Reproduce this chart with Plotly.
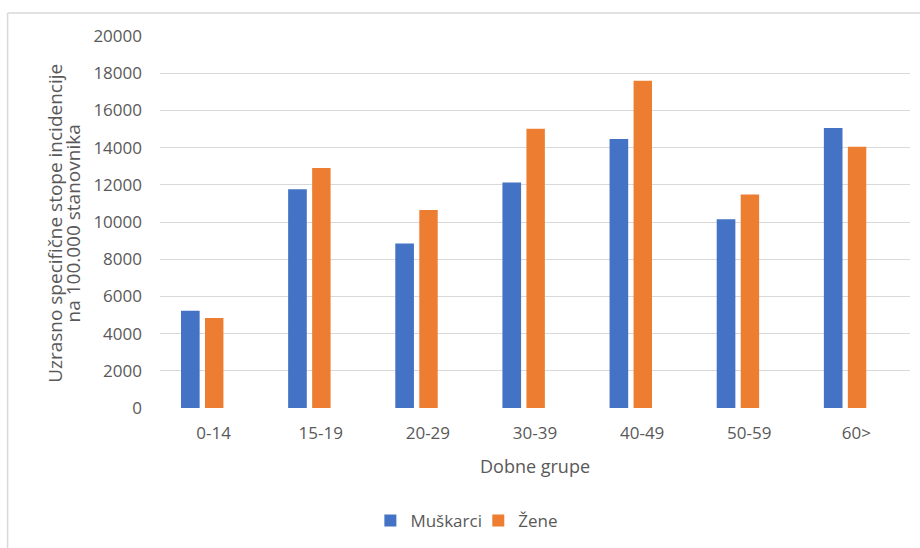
import plotly.graph_objects as go

# Age groups and incidence rates per 100,000 inhabitants
age_groups = ["0-14", "15-19", "20-29", "30-39", "40-49", "50-59", "60>"]
muskarci = [5230, 11760, 8850, 12130, 14460, 10150, 15050]
zene = [4840, 12900, 10650, 15010, 17600, 11480, 14050]
y_ticks = [0, 2000, 4000, 6000, 8000, 10000, 12000, 14000, 16000, 18000, 20000]

BLUE = "#4472C4"
ORANGE = "#ED7D31"
TEXT = "#595959"
GRID = "#D9D9D9"
FONT = "Open Sans"

fig = go.Figure()
fig.add_trace(go.Bar(
    x=age_groups, y=muskarci, name="Muškarci",
    marker=dict(color=BLUE, line=dict(width=0)),
    width=0.174, offset=-0.304, legend="legend",
))
fig.add_trace(go.Bar(
    x=age_groups, y=zene, name="Žene",
    marker=dict(color=ORANGE, line=dict(width=0)),
    width=0.172, offset=-0.080, legend="legend2",
))

legend_style = dict(
    orientation="h", xanchor="left", y=-0.30, yanchor="middle",
    font=dict(family=FONT, size=17, color=TEXT),
    bgcolor="rgba(0,0,0,0)", borderwidth=0,
)

fig.update_layout(
    width=920, height=548, autosize=False,
    margin=dict(l=159.5, r=10, t=36, b=139, pad=0),
    paper_bgcolor="white", plot_bgcolor="white",
    font=dict(family=FONT, size=17, color=TEXT),
    barmode="overlay",
    showlegend=True,
    legend=dict(x=0.2805, **legend_style),
    legend2=dict(x=0.4244, **legend_style),
    xaxis=dict(
        type="category", range=[-0.5, 6.5],
        showgrid=False, zeroline=False, showline=False,
        ticks="", ticklabelstandoff=13,
        tickfont=dict(family=FONT, size=17, color=TEXT),
    ),
    yaxis=dict(
        range=[0, 20000], tickvals=y_ticks, tickformat="d",
        showgrid=True, gridcolor=GRID, gridwidth=1,
        zeroline=False, showline=False,
        ticks="", ticklabelstandoff=17,
        tickfont=dict(family=FONT, size=17, color=TEXT),
    ),
    annotations=[
        dict(text="Uzrasno specifične stope incidencije", xref="paper", yref="paper",
             x=-0.1395, y=0.496, xanchor="center", yanchor="middle", textangle=-90,
             showarrow=False, font=dict(family=FONT, size=19, color=TEXT)),
        dict(text="na 100.000 stanovnika", xref="paper", yref="paper",
             x=-0.1160, y=0.496, xanchor="center", yanchor="middle", textangle=-90,
             showarrow=False, font=dict(family=FONT, size=19, color=TEXT)),
        dict(text="Dobne grupe", xref="paper", yref="paper",
             x=0.5, y=-0.1555, xanchor="center", yanchor="middle",
             showarrow=False, font=dict(family=FONT, size=18, color=TEXT)),
    ],
    shapes=[
        # chart frame: top and left edges
        dict(type="line", xref="paper", yref="paper",
             x0=-0.2032, x1=1.02, y0=1.0617, y1=1.0617,
             line=dict(color=GRID, width=1.5)),
        dict(type="line", xref="paper", yref="paper",
             x0=-0.2032, x1=-0.2032, y0=1.0617, y1=-0.40,
             line=dict(color=GRID, width=1.5)),
    ],
)

fig.write_html("out.html")
